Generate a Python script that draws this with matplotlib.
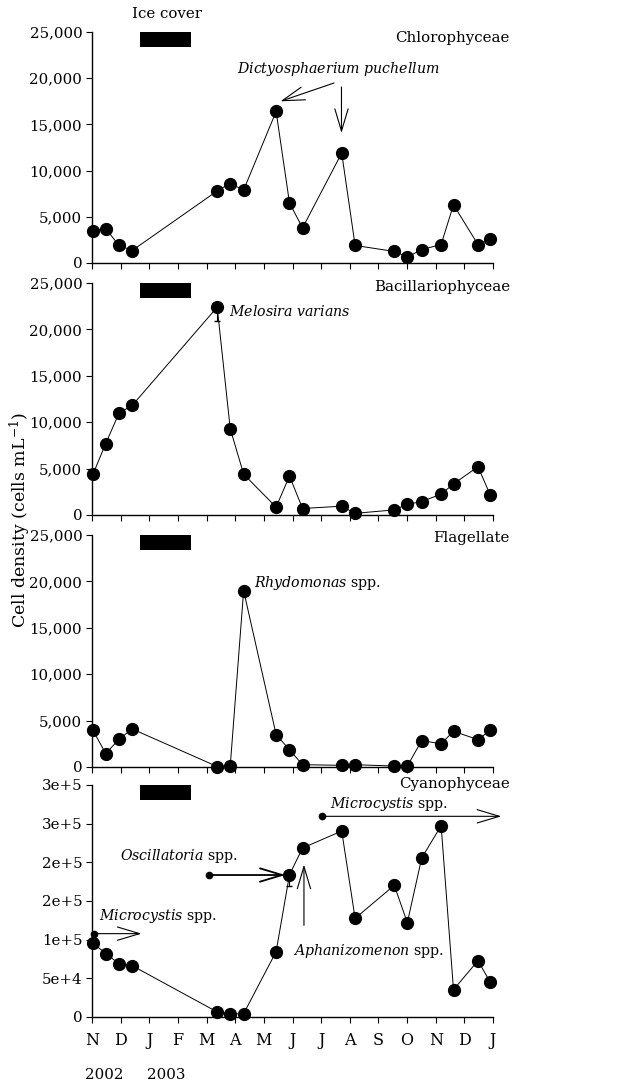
import matplotlib
matplotlib.use("Agg")
import matplotlib.pyplot as plt
from matplotlib.patches import FancyArrowPatch

serif = 'DejaVu Serif'
plt.rcParams['font.family'] = [serif]
plt.rcParams['mathtext.fontset'] = 'custom'
plt.rcParams['mathtext.rm'] = serif
plt.rcParams['mathtext.it'] = serif + ':italic'
plt.rcParams['font.size'] = 10.8

# sampling dates as months since 1 Nov 2002
months = [0.035, 0.479, 0.947, 1.402, 4.371, 4.826, 5.294, 6.428, 6.895, 7.351,
          8.718, 9.186, 10.553, 11.009, 11.511, 12.189, 12.621, 13.474, 13.907]

chloro = [3500, 3700, 1900, 1350, 7800, 8600, 7900, 16400, 6500, 3800,
          11900, 1900, 1250, 650, 1450, 2000, 6300, 2000, 2550]
bacill = [4400, 7700, 11000, 11800, 22400, 9300, 4400, 850, 4200, 700,
          950, 180, 550, 1150, 1450, 2250, 3350, 5200, 2150]
flag = [3950, 1450, 3000, 4100, 50, 100, 19000, 3500, 1850, 250,
        180, 250, 100, 100, 2850, 2500, 3850, 2950, 3950]
cyano = [95700, 81900, 69000, 66400, 6500, 3900, 4300, 84500, 184000, 218500,
         240500, 127600, 170300, 122000, 205600, 247400, 35300, 72800, 44800]

month_labels = ['N', 'D', 'J', 'F', 'M', 'A', 'M', 'J', 'J', 'A', 'S', 'O', 'N', 'D', 'J']
year_labels = ['2002', '2003']
panel_names = ['Chlorophyceae', 'Bacillariophyceae', 'Flagellate', 'Cyanophyceae']
yticks_small = [0, 5000, 10000, 15000, 20000, 25000]
ytick_small_labels = ['0', '5,000', '10,000', '15,000', '20,000', '25,000']
yticks_cyano = [0, 50000, 100000, 150000, 200000, 250000, 300000]
ytick_cyano_labels = ['0', '5e+4', '1e+5', '2e+5', '2e+5', '3e+5', '3e+5']
ice_cover = (1.68, 3.44)

W, H = 636, 1087
fig = plt.figure(figsize=(W / 100, H / 100), dpi=100)

left = 92 / W
width = 401 / W
tops = [32, 283, 535, 785]
bottoms = [263, 515, 767, 1017]
ann_fs = 10.2

series = [chloro, bacill, flag, cyano]
axes = []
for i in range(4):
    b = 1 - bottoms[i] / H
    h = (bottoms[i] - tops[i]) / H
    ax = fig.add_axes([left, b, width, h])
    axes.append(ax)
    ax.plot(months, series[i], color='black', lw=0.7, marker='o', ms=8.5,
            mec='black', mfc='black', clip_on=False, zorder=3)
    ax.set_xlim(0, 14)
    ax.set_xticks(range(15))
    for s in ['top', 'right']:
        ax.spines[s].set_visible(False)
    ax.spines['left'].set_linewidth(1.0)
    ax.spines['bottom'].set_linewidth(1.0)
    ax.tick_params(axis='both', direction='out', length=4, width=0.8)
    ax.tick_params(axis='y', pad=3)
    if i < 3:
        ax.set_ylim(0, 25000)
        ax.set_yticks(yticks_small)
        ax.set_yticklabels(ytick_small_labels)
        ax.set_xticklabels([])
    else:
        ax.set_ylim(0, 300000)
        ax.set_yticks(yticks_cyano)
        ax.set_yticklabels(ytick_cyano_labels)
        ax.set_xticklabels(month_labels, fontsize=11.5)
        ax.tick_params(axis='x', pad=7)
    # ice cover bar
    ax.fill_between([ice_cover[0], ice_cover[1]], 0.935, 1.0,
                    transform=ax.get_xaxis_transform(), color='black',
                    lw=0, clip_on=False)
    fig.text(510 / W, 1 - [38, 287, 538, 784][i] / H, panel_names[i],
             ha='right', va='center')


def arrow(ax, p0, p1, lw=0.8, hl=2.0, hw=0.6, dot=False):
    a = FancyArrowPatch(p0, p1, arrowstyle=f'->,head_length={hl},head_width={hw}',
                        mutation_scale=8, lw=lw, color='black', clip_on=False,
                        shrinkA=0, shrinkB=0, zorder=4)
    ax.add_patch(a)
    if dot:
        ax.plot([p0[0]], [p0[1]], 'o', color='black', ms=4.5, clip_on=False, zorder=4)


# Panel 1 annotations
ax = axes[0]
ax.text(8.59, 21000, r'$\mathit{Dictyosphaerium\ puchellum}$', ha='center', va='center',
        fontsize=ann_fs)
arrow(ax, (8.45, 19480), (6.58, 17500))
arrow(ax, (8.71, 19050), (8.71, 14070))
fig.text(167 / W, 1 - 14 / H, 'Ice cover', ha='center', va='center')

# Panel 2
ax = axes[1]
ax.errorbar([months[4]], [bacill[4]], yerr=[[1500], [0]], fmt='none',
            ecolor='black', elinewidth=0.8, capsize=2.5, zorder=2)
ax.text(4.80, 21940, r'$\mathit{Melosira\ varians}$', ha='left', va='center', fontsize=ann_fs)

# Panel 3
ax = axes[2]
ax.text(5.67, 19780, r'$\mathit{Rhydomonas}$ spp.', ha='left', va='center', fontsize=ann_fs)

# Panel 4
ax = axes[3]
ax.errorbar([months[8]], [cyano[8]], yerr=[[14000], [0]], fmt='none',
            ecolor='black', elinewidth=0.8, capsize=2.5, zorder=2)
ax.text(0.23, 130000, r'$\mathit{Microcystis}$ spp.', ha='left', va='center', fontsize=ann_fs)
arrow(ax, (0.07, 107800), (1.73, 107800), dot=True)
ax.text(0.97, 207800, r'$\mathit{Oscillatoria}$ spp.', ha='left', va='center', fontsize=ann_fs)
arrow(ax, (4.09, 183600), (6.75, 183600), lw=1.3, dot=True)
ax.text(7.01, 85000, r'$\mathit{Aphanizomenon}$ spp.', ha='left', va='center', fontsize=ann_fs)
arrow(ax, (7.40, 118500), (7.40, 197000))
ax.text(8.31, 275400, r'$\mathit{Microcystis}$ spp.', ha='left', va='center', fontsize=ann_fs)
arrow(ax, (8.02, 259500), (14.29, 259500), dot=True)

# year labels
fig.text(104.5 / W, 1 - 1075 / H, year_labels[0], ha='center', va='center')
fig.text(166 / W, 1 - 1075 / H, year_labels[1], ha='center', va='center')

fig.text(20 / W, 1 - 520 / H, r'Cell density (cells mL$^{-1}$)', rotation=90,
         ha='center', va='center', fontsize=12.5)

fig.savefig('out.png', dpi=100)
